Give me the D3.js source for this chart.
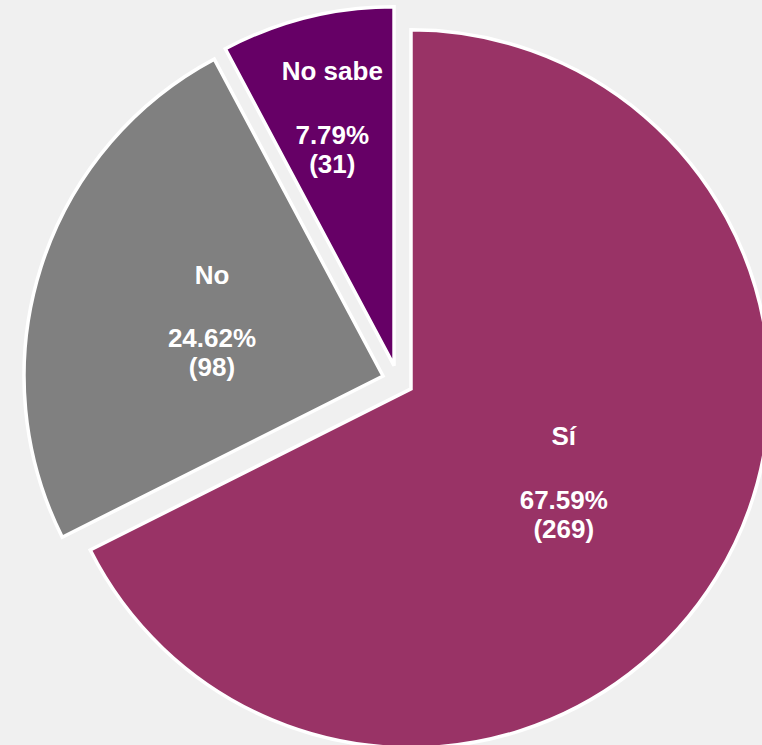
<!DOCTYPE html>
<html>
<head>
<meta charset="utf-8">
<script src="https://cdn.jsdelivr.net/npm/d3@7"></script>
<style>
  html, body { margin: 0; padding: 0; background: #f0f0f0; }
  svg { display: block; }
</style>
</head>
<body>
<svg id="chart" width="762" height="745"></svg>
<script>
// ---- data ----
const categories = ["Sí", "No", "No sabe"];
const counts = [269, 98, 31];
const percentLabels = ["67.59%", "24.62%", "7.79%"];
const colors = ["#993366", "#808080", "#660066"];

// ---- layout / style ----
const W = 762, H = 745;
const cx = 397.8, cy = 380.7;     // pie centre
const R = 359;                    // pie radius
const explode = 15.5;             // explosion distance of each slice
const labelFrac = [0.5, 0.5, 0.71];

const svg = d3.select("#chart");
svg.append("rect").attr("width", W).attr("height", H).attr("fill", "#f0f0f0");

const pie = d3.pie().sort(null).startAngle(0).endAngle(2 * Math.PI);
const arcs = pie(counts);
const arc = d3.arc().innerRadius(0).outerRadius(R);

const g = svg.append("g").attr("transform", `translate(${cx},${cy})`);

const slices = g.selectAll("g.slice").data(arcs).enter().append("g")
  .attr("class", "slice")
  .attr("transform", d => {
    const a = (d.startAngle + d.endAngle) / 2;
    return `translate(${explode * Math.sin(a)},${-explode * Math.cos(a)})`;
  });

slices.append("path")
  .attr("d", arc)
  .attr("fill", (d, i) => colors[i])
  .attr("stroke", "#ffffff")
  .attr("stroke-width", 3.5)
  .attr("stroke-linejoin", "miter");

const lineDy = [-38, 25.5, 54.5];
slices.each(function(d, i) {
  const a = (d.startAngle + d.endAngle) / 2;
  const r = labelFrac[i] * R;
  const x = r * Math.sin(a), y = -r * Math.cos(a);
  const t = d3.select(this).append("text")
    .attr("text-anchor", "middle")
    .attr("fill", "#ffffff")
    .attr("font-family", "'Liberation Sans', Arial, sans-serif")
    .attr("font-weight", "bold")
    .attr("font-size", "26px");
  const lines = [categories[i], percentLabels[i], "(" + counts[i] + ")"];
  lines.forEach((s, k) => {
    t.append("tspan").attr("x", x).attr("y", y + lineDy[k]).text(s);
  });
});
</script>
</body>
</html>
